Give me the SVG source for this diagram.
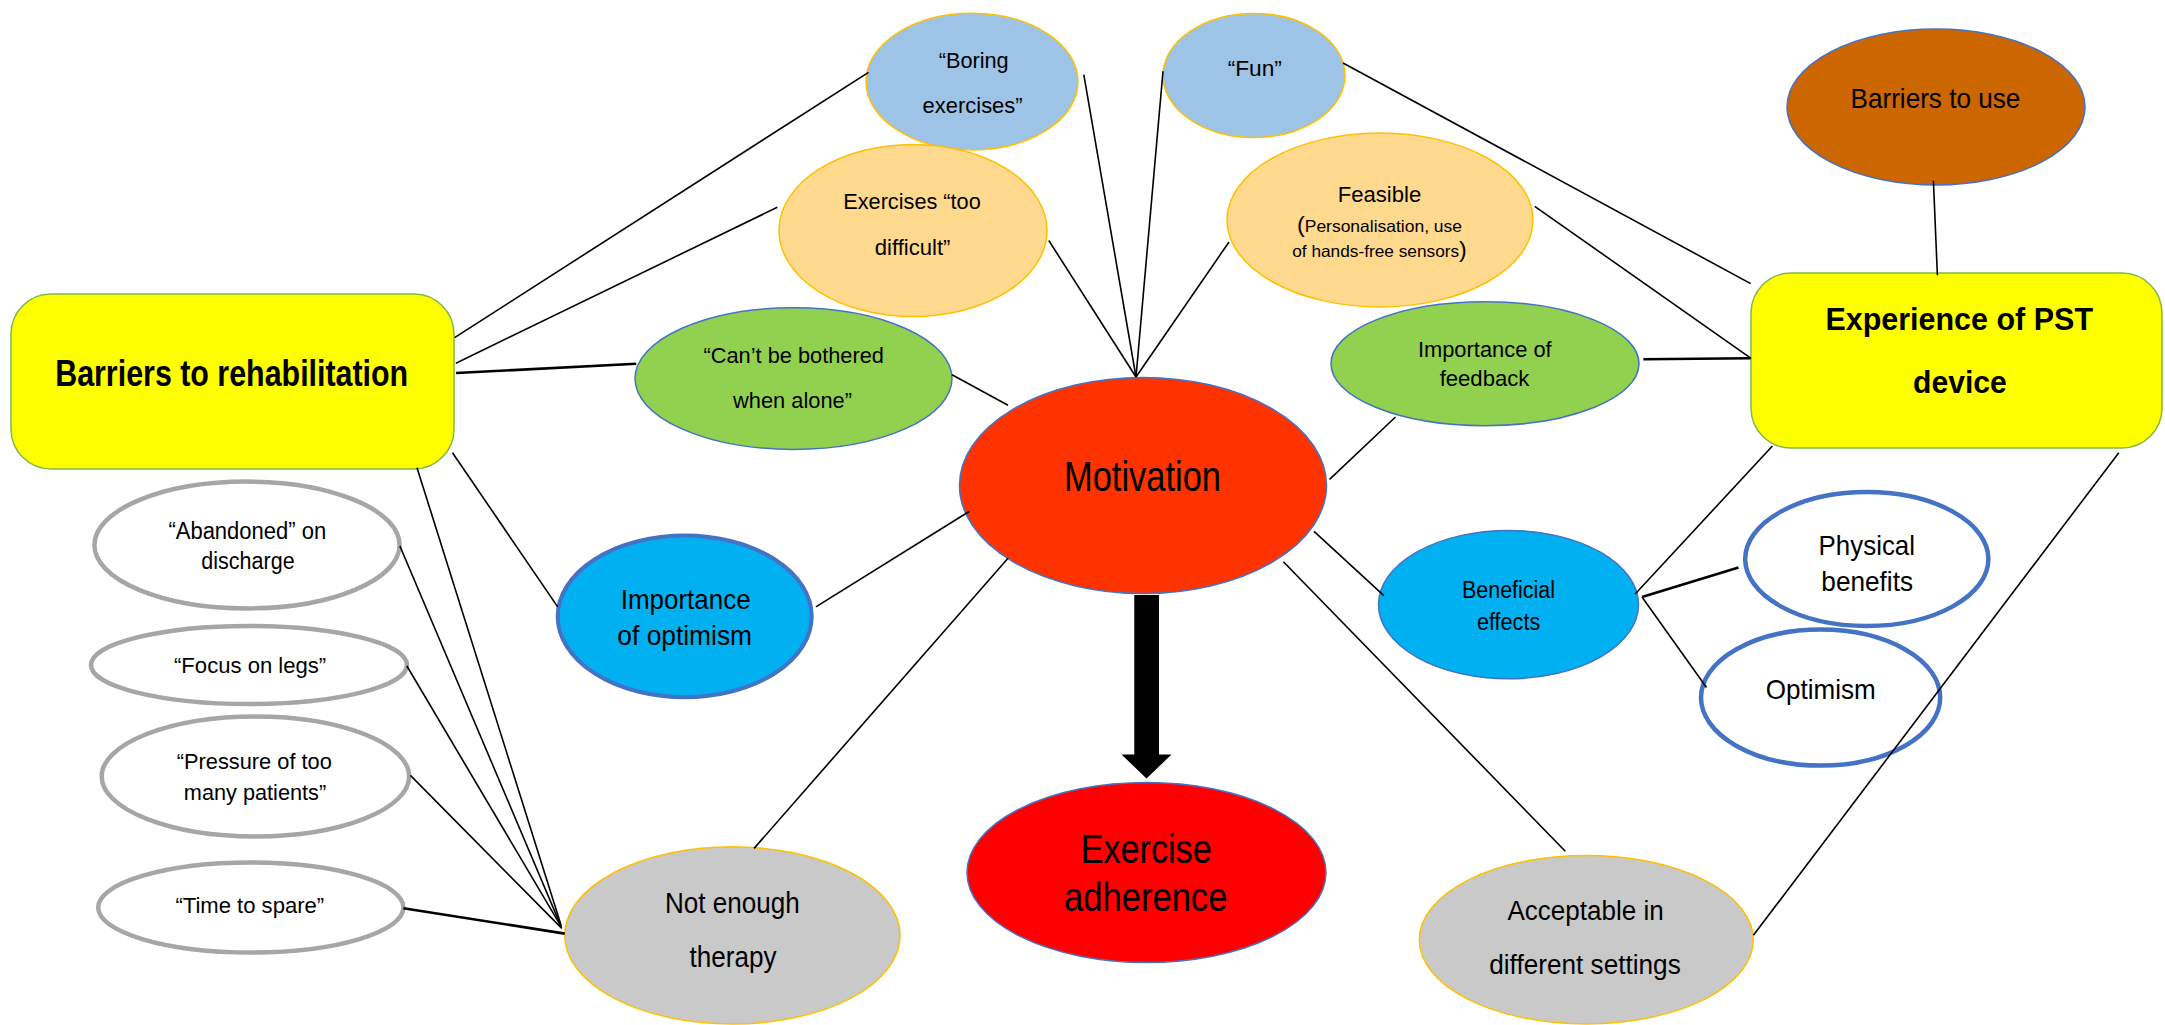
<svg xmlns="http://www.w3.org/2000/svg" width="2165" height="1025" viewBox="0 0 2165 1025">
<style>
text{font-family:"Liberation Sans",Arial,sans-serif;fill:#000;text-anchor:middle}
.b{font-weight:bold}
.rect{fill:#FFFF00;stroke:#7FB94A;stroke-width:1.5}
.lblue{fill:#9DC3E6;stroke:#FFC000;stroke-width:1.5}
.peach{fill:#FFD98E;stroke:#FFC000;stroke-width:1.5}
.green{fill:#92D050;stroke:#4472C4;stroke-width:1.5}
.grey{fill:#C9C9C9;stroke:#FFC000;stroke-width:1.5}
.outg{fill:#FFFFFF;stroke:#A6A6A6;stroke-width:4.5}
.outb{fill:#FFFFFF;stroke:#4472C4;stroke-width:4.5}
.cyan{fill:#00B0F0;stroke:#4472C4;stroke-width:1.5}
.cyanT{fill:#00B0F0;stroke:#4472C4;stroke-width:4}
#connectors line{stroke:#000;stroke-width:1.6}
#connectors line.t{stroke-width:2.6}
</style>
<rect width="2165" height="1025" fill="#FFFFFF"/>

<g id="n-barriers-rehab">
<rect class="rect" x="11" y="294" width="443" height="175" rx="40"/>
<text class="b" x="231.7" y="386" font-size="37" textLength="353" lengthAdjust="spacingAndGlyphs">Barriers to rehabilitation</text>
</g>
<g id="n-boring">
<ellipse class="lblue" cx="972" cy="81.6" rx="106" ry="68.3"/>
<text x="973.7" y="68" font-size="22.5" textLength="70" lengthAdjust="spacingAndGlyphs">“Boring</text>
<text x="972.6" y="112.8" font-size="22.5" textLength="100" lengthAdjust="spacingAndGlyphs">exercises”</text>
</g>
<g id="n-too-difficult">
<ellipse class="peach" cx="913" cy="230.5" rx="134" ry="86"/>
<text x="912" y="209" font-size="22.5" textLength="137.5" lengthAdjust="spacingAndGlyphs">Exercises “too</text>
<text x="912.6" y="254.7" font-size="22.5" textLength="75.7" lengthAdjust="spacingAndGlyphs">difficult”</text>
</g>
<g id="n-cant-be-bothered">
<ellipse class="green" cx="793.5" cy="378.6" rx="158.5" ry="70.8"/>
<text x="793.7" y="363" font-size="22.5" textLength="180.3" lengthAdjust="spacingAndGlyphs">“Can’t be bothered</text>
<text x="792.5" y="408" font-size="22.5" textLength="119" lengthAdjust="spacingAndGlyphs">when alone”</text>
</g>
<g id="n-fun">
<ellipse class="lblue" cx="1254" cy="75.5" rx="91" ry="62"/>
<text x="1254.8" y="76.3" font-size="22.5" textLength="54.3" lengthAdjust="spacingAndGlyphs">“Fun”</text>
</g>
<g id="n-feasible">
<ellipse class="peach" cx="1380" cy="220" rx="153" ry="87"/>
<text x="1379.5" y="201.7" font-size="22" textLength="83.6" lengthAdjust="spacingAndGlyphs">Feasible</text>
<text x="1379.5" y="232.2" font-size="16.5" textLength="165" lengthAdjust="spacingAndGlyphs"><tspan font-size="22">(</tspan>Personalisation, use</text>
<text x="1379.5" y="257" font-size="16.5" textLength="174.6" lengthAdjust="spacingAndGlyphs">of hands-free sensors<tspan font-size="22">)</tspan></text>
</g>
<g id="n-barriers-use">
<ellipse cx="1936" cy="107" rx="149" ry="78" fill="#CC6600" stroke="#4472C4" stroke-width="1.5"/>
<text x="1935.4" y="107.8" font-size="28" textLength="169.8" lengthAdjust="spacingAndGlyphs">Barriers to use</text>
</g>
<g id="n-feedback">
<ellipse class="green" cx="1485" cy="363.7" rx="154" ry="62"/>
<text x="1484.8" y="356.5" font-size="21.5" textLength="133.8" lengthAdjust="spacingAndGlyphs">Importance of</text>
<text x="1484.5" y="386.4" font-size="21.5" textLength="89.7" lengthAdjust="spacingAndGlyphs">feedback</text>
</g>
<g id="n-experience">
<rect class="rect" x="1751" y="273" width="411" height="175" rx="40"/>
<text class="b" x="1959.2" y="330" font-size="32" textLength="267.6" lengthAdjust="spacingAndGlyphs">Experience of PST</text>
<text class="b" x="1959.9" y="393" font-size="32" textLength="93.7" lengthAdjust="spacingAndGlyphs">device</text>
</g>
<g id="n-motivation">
<ellipse cx="1143" cy="485.5" rx="183.5" ry="108" fill="#FF3300" stroke="#4472C4" stroke-width="1.5"/>
<text x="1142.5" y="490.5" font-size="43" textLength="157" lengthAdjust="spacingAndGlyphs">Motivation</text>
</g>
<g id="n-adherence">
<ellipse cx="1146.5" cy="872.5" rx="179.5" ry="90" fill="#FF0000" stroke="#4472C4" stroke-width="1.5"/>
<text x="1146.2" y="863" font-size="40" textLength="131" lengthAdjust="spacingAndGlyphs">Exercise</text>
<text x="1145.7" y="911.3" font-size="40" textLength="163.3" lengthAdjust="spacingAndGlyphs">adherence</text>
</g>
<g id="n-abandoned">
<ellipse class="outg" cx="247" cy="545" rx="152.6" ry="63.4"/>
<text x="247.3" y="539" font-size="23" textLength="157.8" lengthAdjust="spacingAndGlyphs">“Abandoned” on</text>
<text x="248" y="568.6" font-size="23" textLength="93.3" lengthAdjust="spacingAndGlyphs">discharge</text>
</g>
<g id="n-focus-legs">
<ellipse class="outg" cx="249" cy="665" rx="158" ry="39"/>
<text x="250.1" y="673" font-size="22.5" textLength="152.2" lengthAdjust="spacingAndGlyphs">“Focus on legs”</text>
</g>
<g id="n-pressure">
<ellipse class="outg" cx="255.4" cy="776.4" rx="153.7" ry="60"/>
<text x="254.3" y="768.5" font-size="22.5" textLength="155" lengthAdjust="spacingAndGlyphs">“Pressure of too</text>
<text x="255" y="799.8" font-size="22.5" textLength="142.4" lengthAdjust="spacingAndGlyphs">many patients”</text>
</g>
<g id="n-time-spare">
<ellipse class="outg" cx="250.8" cy="907.5" rx="152.6" ry="45"/>
<text x="249.8" y="912.7" font-size="22.5" textLength="148.7" lengthAdjust="spacingAndGlyphs">“Time to spare”</text>
</g>
<g id="n-imp-optimism">
<ellipse class="cyanT" cx="684.7" cy="616.4" rx="127" ry="80.8"/>
<text x="685.7" y="608.6" font-size="28" textLength="129.8" lengthAdjust="spacingAndGlyphs">Importance</text>
<text x="684.7" y="645.1" font-size="28" textLength="134.7" lengthAdjust="spacingAndGlyphs">of optimism</text>
</g>
<g id="n-not-enough">
<ellipse class="grey" cx="732.4" cy="935.4" rx="167.7" ry="88.6"/>
<text x="732.4" y="912.7" font-size="29" textLength="134.7" lengthAdjust="spacingAndGlyphs">Not enough</text>
<text x="733.1" y="966.6" font-size="29" textLength="87" lengthAdjust="spacingAndGlyphs">therapy</text>
</g>
<g id="n-beneficial">
<ellipse class="cyan" cx="1508.5" cy="604.6" rx="130" ry="74.2"/>
<text x="1508.5" y="598.2" font-size="23" textLength="93" lengthAdjust="spacingAndGlyphs">Beneficial</text>
<text x="1508.6" y="629.5" font-size="23" textLength="63.2" lengthAdjust="spacingAndGlyphs">effects</text>
</g>
<g id="n-physical">
<ellipse class="outb" cx="1866.8" cy="559" rx="121.6" ry="67"/>
<text x="1866.8" y="554.7" font-size="28.5" textLength="96.4" lengthAdjust="spacingAndGlyphs">Physical</text>
<text x="1867.2" y="591.2" font-size="28.5" textLength="91.7" lengthAdjust="spacingAndGlyphs">benefits</text>
</g>
<g id="n-optimism">
<ellipse class="outb" cx="1820.6" cy="697.6" rx="119.6" ry="68"/>
<text x="1820.7" y="699" font-size="28.5" textLength="110" lengthAdjust="spacingAndGlyphs">Optimism</text>
</g>
<g id="n-acceptable">
<ellipse class="grey" cx="1586.3" cy="939.7" rx="167" ry="84.3"/>
<text x="1585.6" y="919.7" font-size="27" textLength="156.2" lengthAdjust="spacingAndGlyphs">Acceptable in</text>
<text x="1585" y="973.6" font-size="27" textLength="191.5" lengthAdjust="spacingAndGlyphs">different settings</text>
</g>

<g id="connectors">
<line x1="454.6" y1="337.6" x2="868.5" y2="72.3"/>
<line x1="455.9" y1="363.2" x2="777.3" y2="207.3"/>
<line class="t" x1="456" y1="373" x2="636.3" y2="363.8"/>
<line x1="452.5" y1="452.7" x2="557.7" y2="606.9"/>
<line x1="417" y1="467.7" x2="561" y2="925"/>
<line x1="399.9" y1="546" x2="561.2" y2="926.6"/>
<line x1="406.9" y1="666" x2="561.2" y2="926.6"/>
<line x1="410.4" y1="775.4" x2="561.8" y2="928.4"/>
<line class="t" x1="403.4" y1="908.2" x2="564.7" y2="933.6"/>
<line x1="1083.8" y1="74.6" x2="1136" y2="377"/>
<line x1="1048.8" y1="240.5" x2="1136" y2="377"/>
<line x1="1163" y1="71.3" x2="1136" y2="377"/>
<line x1="1229" y1="242" x2="1136" y2="377"/>
<line x1="952" y1="374.8" x2="1008" y2="405.3"/>
<line x1="1395.5" y1="417" x2="1329.6" y2="479.3"/>
<line x1="815.9" y1="606.9" x2="969.5" y2="511.3"/>
<line x1="754.1" y1="848.4" x2="1008" y2="558.2"/>
<line x1="1314" y1="531.4" x2="1383.9" y2="595.7"/>
<line x1="1283.4" y1="561.7" x2="1565.3" y2="851.2"/>
<line x1="1343" y1="63" x2="1750.7" y2="283.6"/>
<line x1="1534.7" y1="206.3" x2="1750.7" y2="358.2"/>
<line class="t" x1="1643.4" y1="359.2" x2="1750.7" y2="358.2"/>
<line x1="1933.4" y1="180.8" x2="1937.4" y2="275.3"/>
<line x1="1772.4" y1="446" x2="1635.2" y2="594"/>
<line x1="2118.8" y1="452.7" x2="1753.4" y2="935.3"/>
<line class="t" x1="1642" y1="597" x2="1738.5" y2="567.6"/>
<line x1="1642" y1="597" x2="1706.5" y2="687.5"/>
<path id="arrow-motivation-adherence" d="M1134.3,595 H1159 V754.5 H1171.5 L1146.5,778.5 L1121.5,754.5 H1134.3 Z" fill="#000"/>
</g>
</svg>
